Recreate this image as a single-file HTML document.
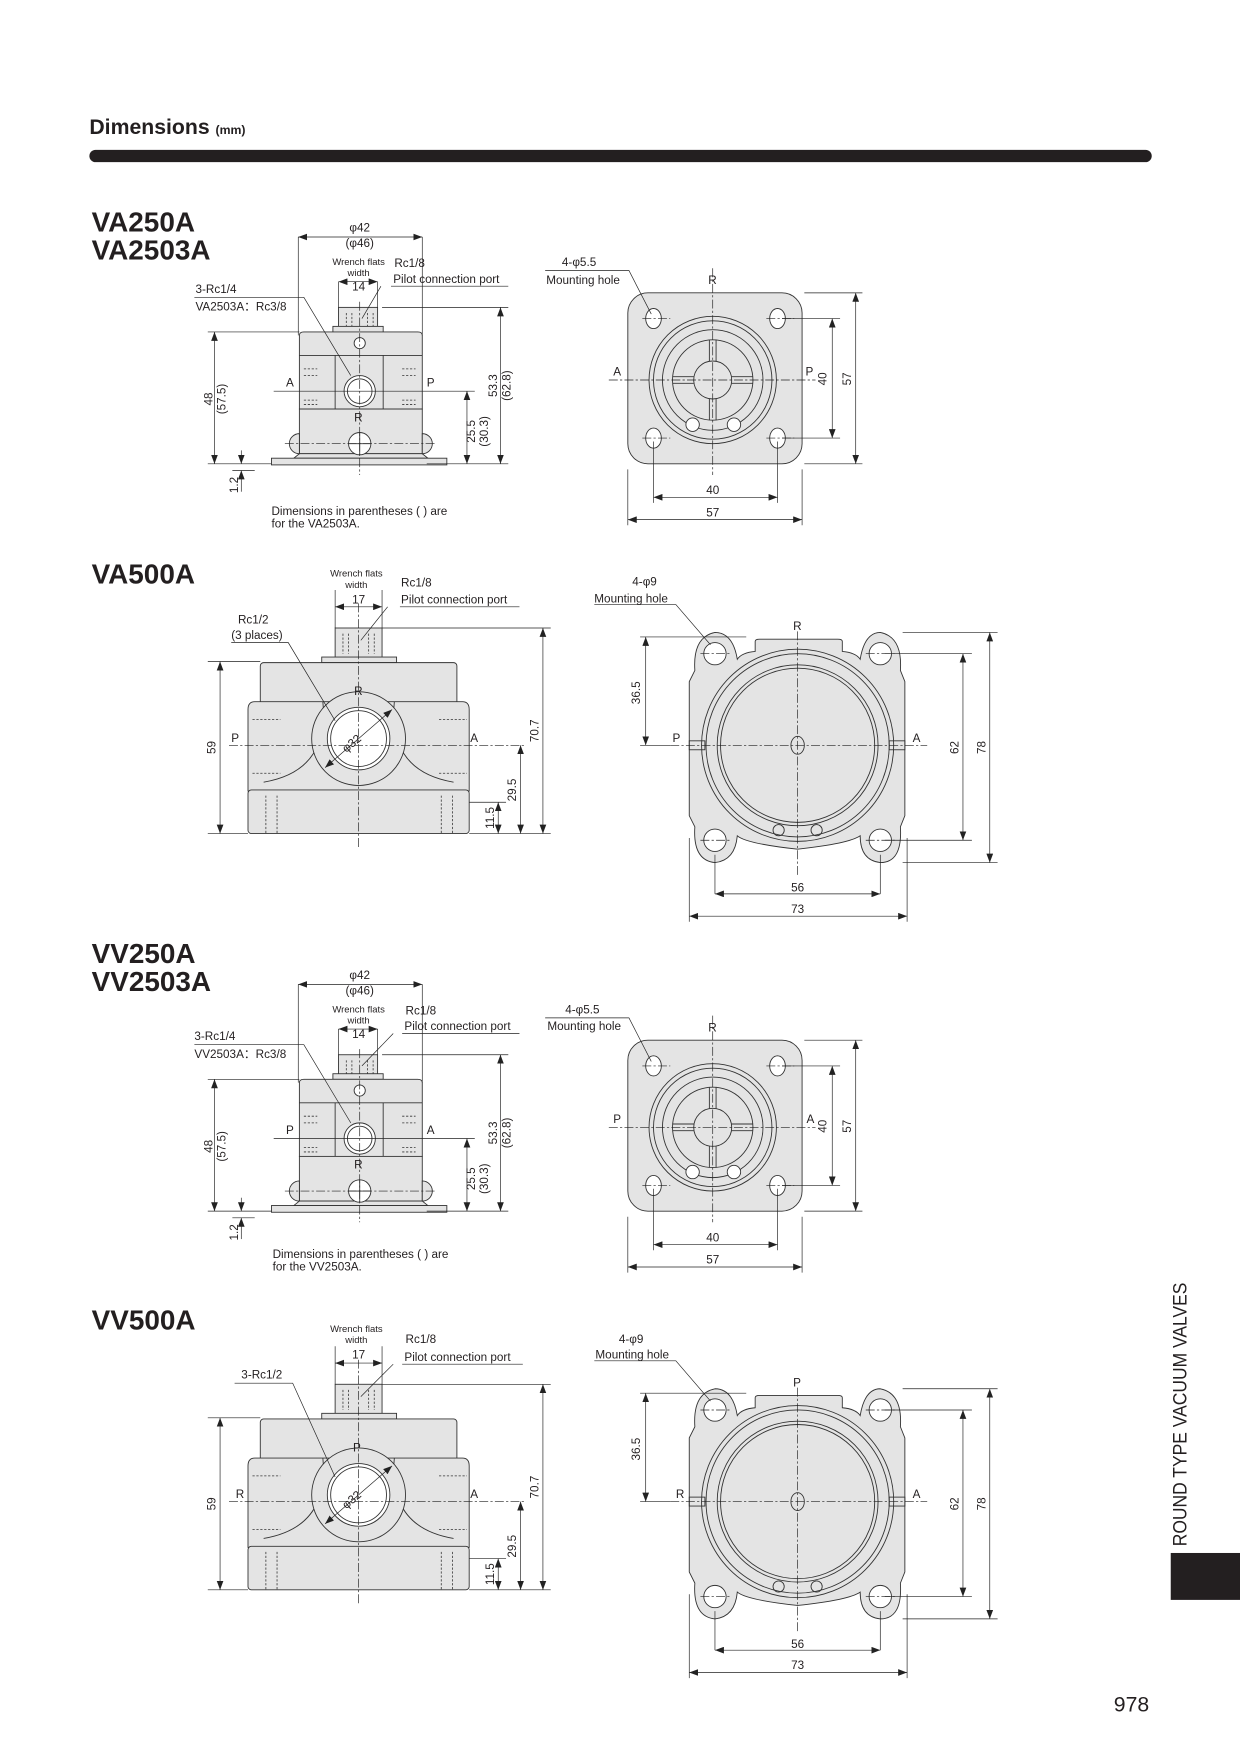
<!DOCTYPE html>
<html><head><meta charset="utf-8"><style>
html,body{margin:0;padding:0;background:#fff}
svg{display:block}
text{font-family:"Liberation Sans",sans-serif;fill:#231f20}
.s{fill:#e4e4e4;stroke:#333;stroke-width:.8}
.n{fill:none;stroke:#333;stroke-width:.8}
.w{fill:#fff;stroke:#333;stroke-width:.8}
.d{fill:none;stroke:#222;stroke-width:.6}
.c{fill:none;stroke:#222;stroke-width:.6;stroke-dasharray:8 2 2 2}
.h{fill:none;stroke:#333;stroke-width:.7;stroke-dasharray:2 1.5}
.t{font-size:10.5px}
.ts{font-size:9px}
</style></head><body>
<svg width="1240" height="1752" viewBox="0 0 1110 1568" xmlns="http://www.w3.org/2000/svg">
<defs>
<marker id="a" markerWidth="8" markerHeight="6" refX="8" refY="3" orient="auto-start-reverse" markerUnits="userSpaceOnUse"><path d="M0,0L8,3L0,6z" fill="#222"/></marker>
<g id="sv">
<rect class="s" x="303" y="275" width="35" height="18"/>
<rect class="s" x="298" y="292" width="45" height="5"/>
<path class="s" d="M268,300 Q268,297 272,297 L374,297 Q378,297 378,300 L378,366 L268,366Z"/>
<line class="n" x1="268" y1="318" x2="378" y2="318"/>
<line class="n" x1="300" y1="318" x2="300" y2="366"/>
<line class="n" x1="343" y1="318" x2="343" y2="366"/>
<circle class="w" cx="322" cy="307" r="5"/>
<circle class="w" cx="322" cy="350" r="14"/><circle class="n" cx="322" cy="350" r="11"/>
<rect class="s" x="268" y="366" width="110" height="40"/>
<path class="s" d="M268,406 L263,410 L383,410 L378,406Z"/>
<rect class="s" x="243" y="410" width="157" height="6"/>
<path class="s" d="M268,388 A9,9 0 0 0 268,406Z"/><path class="s" d="M378,388 A9,9 0 0 1 378,406Z"/>
<circle class="w" cx="322" cy="397" r="10"/>
<line class="n" x1="312" y1="397" x2="332" y2="397"/><line class="n" x1="322" y1="387" x2="322" y2="407"/>
<path class="h" d="M272,330h12M272,336h12M360,330h12M360,336h12M272,358h12M272,362h12M360,358h12M360,362h12"/>
<path class="h" d="M310,280v12M315,280v12M329,280v12M334,280v12"/>
<line class="c" x1="322" y1="270" x2="322" y2="425"/>
<line class="c" x1="255" y1="397" x2="390" y2="397"/>
<path class="d" d="M267,212V300M378,212V300"/>
<line class="d" x1="267" y1="212" x2="378" y2="212" marker-start="url(#a)" marker-end="url(#a)"/>
<path class="d" d="M303,252V275M338,252V275"/>
<line class="d" x1="303" y1="252" x2="338" y2="252" marker-start="url(#a)" marker-end="url(#a)"/>
<path class="d" d="M186,297H268M186,415H243M208,415H228M208,421H228M342,275H455M382,415H455M245,350H425"/>
<line class="d" x1="192" y1="297" x2="192" y2="415" marker-start="url(#a)" marker-end="url(#a)"/>
<line class="d" x1="448" y1="275" x2="448" y2="415" marker-start="url(#a)" marker-end="url(#a)"/>
<line class="d" x1="418" y1="350" x2="418" y2="415" marker-start="url(#a)" marker-end="url(#a)"/>
<line class="d" x1="216" y1="403" x2="216" y2="415" marker-end="url(#a)"/>
<line class="d" x1="216" y1="440" x2="216" y2="421" marker-end="url(#a)"/>
</g>
<g id="tv">
<rect class="s" x="562" y="262" width="156" height="153" rx="18"/>
<ellipse class="w" cx="585" cy="285" rx="7" ry="9"/><ellipse class="w" cx="696" cy="285" rx="7" ry="9"/>
<ellipse class="w" cx="585" cy="392" rx="7" ry="9"/><ellipse class="w" cx="696" cy="392" rx="7" ry="9"/>
<circle class="n" cx="638" cy="340" r="57"/><circle class="n" cx="638" cy="340" r="53"/>
<circle class="n" cx="638" cy="340" r="45"/><circle class="n" cx="638" cy="340" r="36"/>
<circle class="n" cx="638" cy="340" r="17"/>
<path class="n" d="M635,304v19M641,304v19M635,357v19M641,357v19M602,337h19M602,343h19M655,337h19M655,343h19"/>
<circle class="w" cx="620" cy="380" r="6"/><circle class="w" cx="657" cy="380" r="6"/>
<path class="c" d="M638,240V425M545,340H730M575,285H600M686,285H711M575,392H600M686,392H711"/>
<path class="d" d="M700,285H752M700,392H752M720,262H772M720,415H772M585,395V450M696,395V450M562,420V470M718,420V470"/>
<line class="d" x1="745" y1="285" x2="745" y2="392" marker-start="url(#a)" marker-end="url(#a)"/>
<line class="d" x1="766" y1="262" x2="766" y2="415" marker-start="url(#a)" marker-end="url(#a)"/>
<line class="d" x1="585" y1="445" x2="696" y2="445" marker-start="url(#a)" marker-end="url(#a)"/>
<line class="d" x1="562" y1="465" x2="718" y2="465" marker-start="url(#a)" marker-end="url(#a)"/>
<path class="d" d="M488,242H563L583,281"/>
<g class="t" text-anchor="middle"><text x="638" y="442">40</text><text x="638" y="462">57</text></g>
<text class="t" transform="translate(740,339) rotate(-90)" text-anchor="middle">40</text>
<text class="t" transform="translate(762,339) rotate(-90)" text-anchor="middle">57</text>
</g>
<g id="sv5">
<rect class="s" x="300" y="562" width="42" height="27"/>
<rect class="s" x="288" y="588" width="67" height="5"/>
<rect class="s" x="233" y="593" width="176" height="40" rx="3"/>
<path class="s" d="M228,628 Q222,628 222,635 L222,708 L420,708 L420,635 Q420,628 414,628Z"/>
<path class="n" d="M236,700 Q295,690 289,628 M406,700 Q347,690 353,628"/>
<circle class="s" cx="321" cy="661" r="42"/>
<circle class="w" cx="321" cy="661" r="28"/><circle class="n" cx="321" cy="661" r="25"/>
<rect class="s" x="222" y="707" width="198" height="39" rx="3"/>
<path class="h" d="M226,644h25M226,692h25M393,644h25M393,692h25M238,712v34M248,712v34M395,712v34M405,712v34M307,567v18M312,567v18M330,567v18M335,567v18"/>
<line class="d" x1="291" y1="687" x2="351" y2="635" marker-start="url(#a)" marker-end="url(#a)"/>
<path class="c" d="M321,540V758M205,667H470"/>
<path class="d" d="M186,592H233M186,746H222M342,562H493M420,746H493M420,718H453M300,528V562M342,528V562"/>
<line class="d" x1="197" y1="592" x2="197" y2="746" marker-start="url(#a)" marker-end="url(#a)"/>
<line class="d" x1="486" y1="562" x2="486" y2="746" marker-start="url(#a)" marker-end="url(#a)"/>
<line class="d" x1="466" y1="667" x2="466" y2="746" marker-start="url(#a)" marker-end="url(#a)"/>
<line class="d" x1="446" y1="718" x2="446" y2="746" marker-start="url(#a)" marker-end="url(#a)"/>
<line class="d" x1="300" y1="543" x2="342" y2="543" marker-start="url(#a)" marker-end="url(#a)"/>
<text class="t" transform="translate(317,668) rotate(-40)" text-anchor="middle">φ32</text>
<text class="t" transform="translate(193,669) rotate(-90)" text-anchor="middle">59</text>
<text class="t" transform="translate(482,654) rotate(-90)" text-anchor="middle">70.7</text>
<text class="t" transform="translate(462,707) rotate(-90)" text-anchor="middle">29.5</text>
<text class="t" transform="translate(442,732) rotate(-90)" text-anchor="middle">11.5</text>
</g>
<g id="tv5">
<path class="s" d="M622,600 Q620,570 640,566 Q656,566 660,590 Q664,584 676,583 L676,574 Q676,572 680,572 L750,572 Q754,572 754,574 L754,583 Q766,584 770,590 Q774,566 788,566 Q808,570 806,600 L810,610 L810,730 L806,740 Q808,772 788,772 Q770,770 770,748 Q760,755 714,760 Q668,755 660,748 Q658,770 640,772 Q620,770 622,740 L617,730 L617,610Z"/>
<circle class="w" cx="640" cy="585" r="10"/><circle class="w" cx="788" cy="585" r="10"/>
<circle class="w" cx="640" cy="752" r="10"/><circle class="w" cx="788" cy="752" r="10"/>
<circle class="n" cx="714" cy="667" r="86"/><circle class="n" cx="714" cy="667" r="82"/>
<circle class="n" cx="714" cy="667" r="72"/><circle class="n" cx="714" cy="667" r="69"/>
<ellipse class="n" cx="714" cy="667" rx="6" ry="8"/>
<circle class="n" cx="697" cy="743" r="5"/><circle class="n" cx="731" cy="743" r="5"/>
<rect class="n" x="617" y="663" width="14" height="8"/><rect class="n" x="796" y="663" width="14" height="8"/>
<path class="c" d="M714,565V785M600,667H830M627,585H653M775,585H801M627,752H653M775,752H801"/>
<path class="d" d="M573,570H668M573,667H600M792,585H870M792,752H870M808,566H893M808,772H893M640,765V800M788,765V800M617,750V825M812,750V825"/>
<line class="d" x1="578" y1="570" x2="578" y2="667" marker-start="url(#a)" marker-end="url(#a)"/>
<line class="d" x1="862" y1="585" x2="862" y2="752" marker-start="url(#a)" marker-end="url(#a)"/>
<line class="d" x1="886" y1="566" x2="886" y2="772" marker-start="url(#a)" marker-end="url(#a)"/>
<line class="d" x1="640" y1="800" x2="788" y2="800" marker-start="url(#a)" marker-end="url(#a)"/>
<line class="d" x1="617" y1="820" x2="812" y2="820" marker-start="url(#a)" marker-end="url(#a)"/>
<path class="d" d="M532,541H605L636,577"/>
<g class="t" text-anchor="middle"><text x="714" y="798">56</text><text x="714" y="817">73</text></g>
<text class="t" transform="translate(573,620) rotate(-90)" text-anchor="middle">36.5</text>
<text class="t" transform="translate(858,669) rotate(-90)" text-anchor="middle">62</text>
<text class="t" transform="translate(882,669) rotate(-90)" text-anchor="middle">78</text>
</g>
</defs>

<text x="80" y="120" style="font-size:19px;font-weight:bold">Dimensions <tspan style="font-size:11px">(mm)</tspan></text>
<rect x="80" y="134" width="951" height="11" rx="5.5" fill="#231f20"/>

<text x="82" y="207" style="font-size:25px;font-weight:bold">VA250A</text>
<text x="82" y="232" style="font-size:25px;font-weight:bold">VA2503A</text>
<use href="#sv"/>
<use href="#tv"/>
<g class="t">
<text x="322" y="207" text-anchor="middle">φ42</text><text x="322" y="221" text-anchor="middle">(φ46)</text>
<text x="321" y="237" text-anchor="middle" style="font-size:8.5px">Wrench flats</text>
<text x="321" y="247" text-anchor="middle" style="font-size:8.5px">width</text>
<text x="321" y="260" text-anchor="middle">14</text>
<text x="353" y="239">Rc1/8</text><text x="352" y="253">Pilot connection port</text>
<text x="175" y="262">3-Rc1/4</text><text x="175" y="278">VA2503A：Rc3/8</text>
<text x="256" y="346">A</text><text x="382" y="346">P</text><text x="317" y="377">R</text>
<text x="243" y="461">Dimensions in parentheses ( ) are</text><text x="243" y="472">for the VA2503A.</text>
<text x="503" y="238">4-φ5.5</text><text x="489" y="254">Mounting hole</text>
<text x="634" y="254">R</text><text x="549" y="336">A</text><text x="721" y="336">P</text>
</g>
<path class="d" d="M350,256H455M341,256L324,285M174,266H272L314,336"/>
<g class="t">
<text transform="translate(190,357) rotate(-90)" text-anchor="middle">48</text>
<text transform="translate(202,357) rotate(-90)" text-anchor="middle">(57.5)</text>
<text transform="translate(445,345) rotate(-90)" text-anchor="middle">53.3</text>
<text transform="translate(457,345) rotate(-90)" text-anchor="middle">(62.8)</text>
<text transform="translate(425,386) rotate(-90)" text-anchor="middle">25.5</text>
<text transform="translate(437,386) rotate(-90)" text-anchor="middle">(30.3)</text>
<text transform="translate(213,434) rotate(-90)" text-anchor="middle">1.2</text>
</g>

<text x="82" y="522" style="font-size:25px;font-weight:bold">VA500A</text>
<use href="#sv5"/>
<use href="#tv5"/>
<g class="t">
<text x="319" y="516" text-anchor="middle" style="font-size:8.5px">Wrench flats</text>
<text x="319" y="526" text-anchor="middle" style="font-size:8.5px">width</text>
<text x="321" y="540" text-anchor="middle">17</text>
<text x="359" y="525">Rc1/8</text><text x="359" y="540">Pilot connection port</text>
<text x="213" y="558">Rc1/2</text><text x="207" y="572">(3 places)</text>
<text x="207" y="664">P</text><text x="421" y="664">A</text><text x="317" y="622">R</text>
<text x="566" y="524">4-φ9</text><text x="532" y="539">Mounting hole</text>
<text x="710" y="564">R</text><text x="602" y="664">P</text><text x="817" y="664">A</text>
</g>
<path class="d" d="M358,543H465M347,543L323,573M207,575H258L300,645"/>

<text x="82" y="862" style="font-size:25px;font-weight:bold">VV250A</text>
<text x="82" y="887" style="font-size:25px;font-weight:bold">VV2503A</text>
<g transform="translate(0,669)"><use href="#sv"/><use href="#tv"/></g>
<g class="t">
<text x="322" y="876" text-anchor="middle">φ42</text><text x="322" y="890" text-anchor="middle">(φ46)</text>
<text x="321" y="906" text-anchor="middle" style="font-size:8.5px">Wrench flats</text>
<text x="321" y="916" text-anchor="middle" style="font-size:8.5px">width</text>
<text x="321" y="929" text-anchor="middle">14</text>
<text x="363" y="908">Rc1/8</text><text x="362" y="922">Pilot connection port</text>
<text x="174" y="931">3-Rc1/4</text><text x="174" y="947">VV2503A：Rc3/8</text>
<text x="256" y="1015">P</text><text x="382" y="1015">A</text><text x="317" y="1046">R</text>
<text x="244" y="1126">Dimensions in parentheses ( ) are</text><text x="244" y="1137">for the VV2503A.</text>
<text x="506" y="907">4-φ5.5</text><text x="490" y="922">Mounting hole</text>
<text x="634" y="923">R</text><text x="549" y="1005">P</text><text x="722" y="1005">A</text>
</g>
<path class="d" d="M360,925H465M352,925L324,954M174,935H272L314,1005"/>
<g class="t">
<text transform="translate(190,1026) rotate(-90)" text-anchor="middle">48</text>
<text transform="translate(202,1026) rotate(-90)" text-anchor="middle">(57.5)</text>
<text transform="translate(445,1014) rotate(-90)" text-anchor="middle">53.3</text>
<text transform="translate(457,1014) rotate(-90)" text-anchor="middle">(62.8)</text>
<text transform="translate(425,1055) rotate(-90)" text-anchor="middle">25.5</text>
<text transform="translate(437,1055) rotate(-90)" text-anchor="middle">(30.3)</text>
<text transform="translate(213,1103) rotate(-90)" text-anchor="middle">1.2</text>
</g>

<text x="82" y="1190" style="font-size:25px;font-weight:bold">VV500A</text>
<g transform="translate(0,677)"><use href="#sv5"/><use href="#tv5"/></g>
<g class="t">
<text x="319" y="1192" text-anchor="middle" style="font-size:8.5px">Wrench flats</text>
<text x="319" y="1202" text-anchor="middle" style="font-size:8.5px">width</text>
<text x="321" y="1216" text-anchor="middle">17</text>
<text x="363" y="1202">Rc1/8</text><text x="362" y="1218">Pilot connection port</text>
<text x="216" y="1234">3-Rc1/2</text>
<text x="211" y="1341">R</text><text x="421" y="1341">A</text><text x="316" y="1299">P</text>
<text x="554" y="1202">4-φ9</text><text x="533" y="1216">Mounting hole</text>
<text x="710" y="1241">P</text><text x="605" y="1341">R</text><text x="817" y="1341">A</text>
</g>
<path class="d" d="M360,1221H468M352,1221L323,1250M210,1238H262L300,1322"/>

<text transform="translate(1062,1266) rotate(-90)" text-anchor="middle" textLength="236" lengthAdjust="spacingAndGlyphs" style="font-size:17px">ROUND TYPE VACUUM VALVES</text>
<rect x="1048" y="1390" width="62" height="42" fill="#231f20"/>
<text x="997" y="1532" style="font-size:19px">978</text>
</svg>
</body></html>
